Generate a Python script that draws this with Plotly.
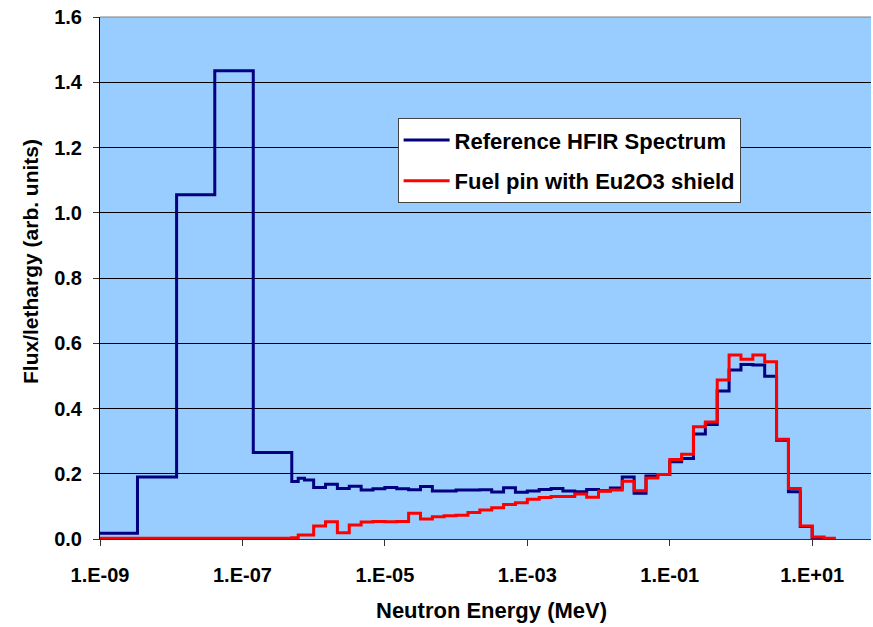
import plotly.graph_objects as go

# Bin edges (MeV)
edges = [1.00e-9, 3.36e-9, 1.19e-8, 4.09e-8, 1.42e-7, 4.93e-7, 6.07e-7, 7.43e-7,
         1.000e-6, 1.468e-6, 2.154e-6, 3.162e-6, 4.642e-6, 6.813e-6,
         1.000e-5, 1.468e-5, 2.154e-5, 3.162e-5, 4.642e-5, 6.813e-5,
         1.000e-4, 1.468e-4, 2.154e-4, 3.162e-4, 4.642e-4, 6.813e-4,
         1.000e-3, 1.468e-3, 2.154e-3, 3.162e-3, 4.642e-3, 6.813e-3,
         1.000e-2, 1.468e-2, 2.154e-2, 3.162e-2, 4.642e-2, 6.813e-2,
         1.000e-1, 1.468e-1, 2.154e-1, 3.162e-1, 4.642e-1, 6.813e-1,
         1.000, 1.468, 2.154, 3.162, 4.642, 6.813,
         10.00, 14.68, 21.54]

ref_hfir = [0.018, 0.190, 1.055, 1.435, 0.265, 0.176, 0.186, 0.181,
            0.158, 0.168, 0.155, 0.162, 0.150, 0.154,
            0.158, 0.154, 0.151, 0.161, 0.147, 0.147,
            0.150, 0.150, 0.151, 0.144, 0.157, 0.143,
            0.147, 0.152, 0.155, 0.147, 0.145, 0.152,
            0.148, 0.156, 0.190, 0.140, 0.193, 0.198,
            0.237, 0.247, 0.322, 0.351, 0.454, 0.518,
            0.535, 0.533, 0.499, 0.303, 0.145, 0.038,
            0.004]

eu_shield = [0.002, 0.002, 0.002, 0.002, 0.002, 0.004, 0.012, 0.012,
             0.040, 0.053, 0.019, 0.043, 0.052, 0.054,
             0.053, 0.054, 0.079, 0.061, 0.068, 0.071,
             0.073, 0.081, 0.089, 0.096, 0.106, 0.111,
             0.122, 0.127, 0.130, 0.130, 0.138, 0.128,
             0.146, 0.150, 0.177, 0.148, 0.187, 0.198,
             0.244, 0.260, 0.344, 0.359, 0.487, 0.564,
             0.551, 0.564, 0.543, 0.306, 0.155, 0.040,
             0.006, 0.002]

tick_vals = [1e-9, 1e-7, 1e-5, 1e-3, 1e-1, 1e1]
tick_text = ["1.E-09", "1.E-07", "1.E-05", "1.E-03", "1.E-01", "1.E+01"]

x_title = "Neutron Energy (MeV)"
y_title = "Flux/lethargy (arb. units)"

FONT = "Liberation Sans, Arial, sans-serif"


def step_xy(vals):
    xs = edges[:len(vals) + 1]
    ys = list(vals) + [vals[-1]]
    return xs, ys


fig = go.Figure()
bx, by = step_xy(ref_hfir)
rx, ry = step_xy(eu_shield)
fig.add_trace(go.Scatter(x=bx, y=by, mode="lines", line=dict(shape="hv", color="#000080", width=3),
                         name="Reference HFIR Spectrum", legendgroup="a"))
fig.add_trace(go.Scatter(x=rx, y=ry, mode="lines", line=dict(shape="hv", color="#FF0000", width=3),
                         name="Fuel pin with Eu2O3 shield", legendgroup="b"))

fig.update_layout(
    width=873, height=627,
    margin=dict(l=100, r=2, t=17, b=88),
    paper_bgcolor="white", plot_bgcolor="#99CCFF",
    font=dict(family=FONT, color="black"),
    showlegend=True,
    legend=dict(x=0.386, y=0.806, xanchor="left", yanchor="top",
                bgcolor="white", bordercolor="#444444", borderwidth=1,
                font=dict(family=FONT, size=22, weight="bold", color="black"),
                itemwidth=46,
                tracegroupgap=9, traceorder="grouped"),
    xaxis=dict(type="log", range=[-9, 1.826], tickvals=tick_vals, ticktext=tick_text,
               showgrid=False, zeroline=False, showline=True, linecolor="#333333", linewidth=1,
               ticks="outside", ticklen=6, tickcolor="#333333",
               tickfont=dict(family=FONT, size=20, weight="bold", color="black"),
               ticklabelstandoff=12),
    yaxis=dict(range=[0, 1.6], dtick=0.2, tickformat=".1f",
               showgrid=True, gridcolor="black", gridwidth=1, zeroline=False,
               showline=True, linecolor="black", linewidth=1,
               ticks="outside", ticklen=6, tickcolor="#333333",
               ticklabelstandoff=7,
               tickfont=dict(family=FONT, size=20, weight="bold", color="black")),
)
fig.add_shape(type="line", xref="paper", yref="paper", x0=0, x1=1, y0=1, y1=1,
              line=dict(color="#808080", width=1))
fig.add_annotation(text=x_title, xref="paper", yref="paper", x=(491 - 100) / 771, y=-(610 - 539) / 522,
                   xanchor="center", yanchor="middle", showarrow=False,
                   font=dict(family=FONT, size=22, weight="bold", color="black"))
fig.add_annotation(text=y_title, xref="paper", yref="paper", x=(30 - 100) / 771, y=(539 - 262) / 522,
                   xanchor="center", yanchor="middle", showarrow=False, textangle=-90,
                   font=dict(family=FONT, size=21, weight="bold", color="black"))

fig.write_html("out.html")
